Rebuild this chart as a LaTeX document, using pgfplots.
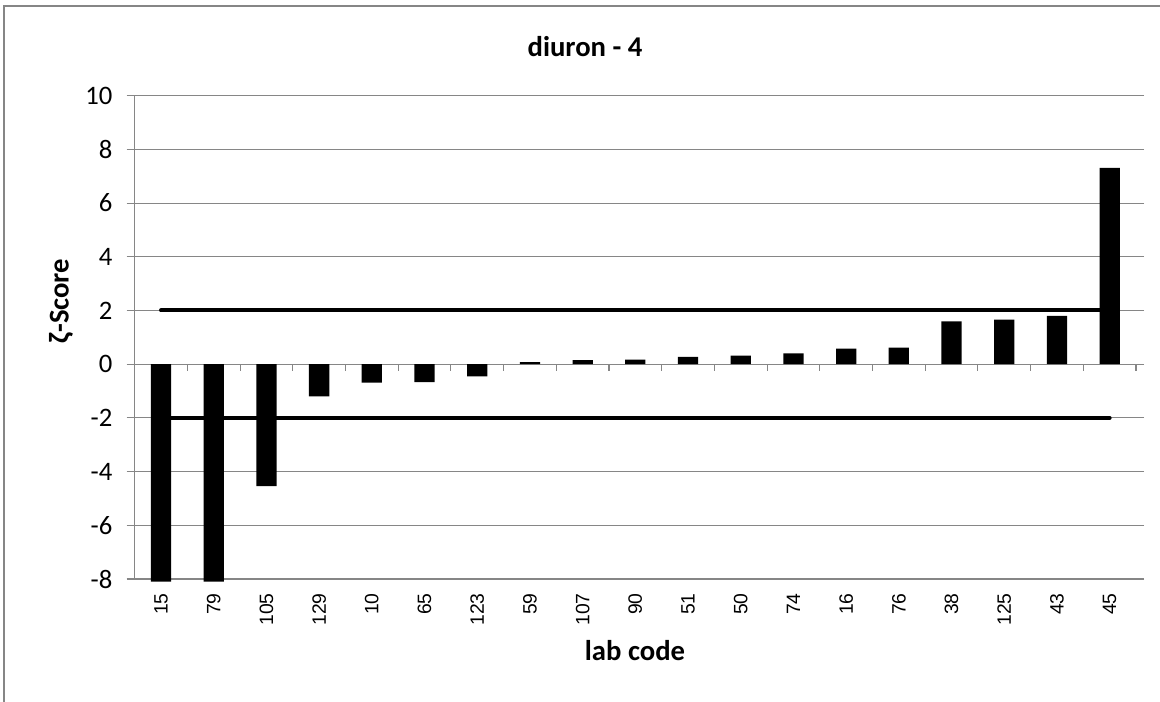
\documentclass[border=0pt]{standalone}
\usepackage{fontspec}
\setmainfont{Carlito}
\newfontfamily\arialf{Liberation Sans}
\usepackage{pgfplots}
\pgfplotsset{compat=1.18}
\definecolor{gridgray}{RGB}{134,134,134}
\begin{document}
\begin{tikzpicture}
\path[use as bounding box] (0,0) rectangle (870pt,525.75pt);
\fill[white] (0,0) rectangle (870pt,525.75pt);
\draw[gridgray, line width=1.1pt] (3pt,-5pt) -- (3pt,521.25pt) -- (875pt,521.25pt);
\begin{axis}[
  at={(101pt,91.5pt)}, anchor=south west,
  scale only axis, width=751pt, height=362.5pt,
  xmin=-0.5, xmax=18.5, ymin=-8, ymax=10,
  clip=false,
  axis line style={draw=none},
  xtick={0,...,18},
  xticklabels={15,79,105,129,10,65,123,59,107,90,51,50,74,16,76,38,125,43,45},
  xtick style={draw=none},
  xticklabel style={font=\arialf\fontsize{14.5}{17}\selectfont, yshift=-4.5pt, rotate=90, anchor=east, inner sep=0pt},
  ytick={-8,-6,...,10},
  ytick style={gridgray, line width=0.8pt},
  tick align=outside, major tick length=6pt,
  yticklabel style={font=\fontsize{20}{23}\selectfont, anchor=east, inner sep=0pt, xshift=-10.5pt},
  /pgf/number format/assume math mode=true,
  ymajorgrids, major grid style={gridgray, line width=0.8pt},
  axis on top=false,
]
\draw[gridgray, line width=0.8pt] (rel axis cs:0,0) -- (rel axis cs:0,1);
\pgfplotsinvokeforeach{0.5,1.5,...,18.5}{\draw[gridgray, line width=0.8pt] (axis cs:#1,0) -- ([yshift=-5pt]axis cs:#1,0);}
\addplot[black, line width=3pt, line cap=round] coordinates {(0,2) (18,2)};
\addplot[black, line width=3pt, line cap=round] coordinates {(0,-2) (18,-2)};
\addplot[ybar, bar width=15.2pt, bar shift=0pt, fill=black, draw=none] coordinates {
(0,-8.1) (1,-8.1) (2,-4.54) (3,-1.2) (4,-0.69) (5,-0.67) (6,-0.45) (7,0.08) (8,0.15) (9,0.17)
(10,0.27) (11,0.32) (12,0.40) (13,0.58) (14,0.62) (15,1.59) (16,1.66) (17,1.80) (18,7.31)};
\end{axis}
\node[font=\bfseries\fontsize{21.5}{25}\selectfont] at (438.75pt,490.5pt) {diuron - 4};
\node[font=\bfseries\fontsize{21.5}{25}\selectfont] at (476.25pt,37.5pt) {lab code};
\node[font=\bfseries\fontsize{21.5}{25}\selectfont, rotate=90] at (45.75pt,300pt) {ζ-Score};
\end{tikzpicture}
\end{document}
